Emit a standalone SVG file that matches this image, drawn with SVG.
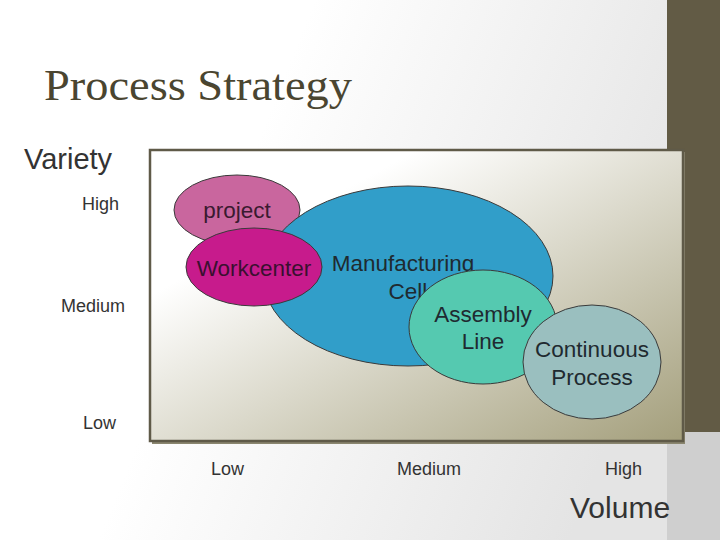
<svg xmlns="http://www.w3.org/2000/svg" width="720" height="540" viewBox="0 0 720 540">
<defs>
<linearGradient id="bg" x1="0" y1="0" x2="1" y2="0.3"><stop offset="0.4" stop-color="#ffffff"/><stop offset="1" stop-color="#e4e4e4"/></linearGradient>
<linearGradient id="ch" x1="0" y1="0" x2="1" y2="1"><stop offset="0.25" stop-color="#ffffff"/><stop offset="1" stop-color="#a49f7c"/></linearGradient>
</defs>
<style>
text{font-family:"Liberation Sans",Arial,sans-serif;fill:#333}
.e{stroke:#3a3a3a;stroke-width:1}
.l{font-size:22.5px;text-anchor:middle;fill:#1f2a30}
.a{font-size:18px;fill:#333}
</style>
<rect width="720" height="540" fill="url(#bg)"/>
<rect x="667" y="0" width="53" height="432" fill="#625b45"/>
<rect x="667" y="432" width="53" height="108" fill="#cfcfcf"/>
<text x="44" y="100" textLength="308" lengthAdjust="spacingAndGlyphs" style="font-family:'Liberation Serif',serif;font-size:45px;fill:#4a4530">Process Strategy</text>
<text x="24" y="169" style="font-size:29px">Variety</text>
<text x="82" y="210" class="a">High</text>
<text x="61" y="312" class="a">Medium</text>
<text x="83" y="429" class="a">Low</text>
<rect x="152" y="152" width="533" height="292" fill="#8a866f"/>
<rect x="150" y="150" width="533" height="291" fill="url(#ch)" stroke="#5f5a48" stroke-width="2.5"/>
<g id="project"><ellipse class="e" cx="237" cy="210" rx="63" ry="35" fill="#c9669e"/><text class="l" x="237" y="218" style="fill:#3a1a30">project</text></g>
<g id="cell"><ellipse class="e" cx="408" cy="276" rx="145" ry="90" fill="#319ec9"/><text class="l" x="403" y="271">Manufacturing</text><text class="l" x="408" y="299">Cell</text></g>
<g id="workcenter"><ellipse class="e" cx="254" cy="267" rx="68" ry="39" fill="#c71b8c"/><text class="l" x="254" y="276" style="fill:#3a1030">Workcenter</text></g>
<g id="assembly"><ellipse class="e" cx="483" cy="327" rx="74" ry="57" fill="#55c9b0"/><text class="l" x="483" y="322">Assembly</text><text class="l" x="483" y="349">Line</text></g>
<g id="continuous"><ellipse class="e" cx="592" cy="362" rx="69" ry="57" fill="#9abfbf"/><text class="l" x="592" y="357">Continuous</text><text class="l" x="592" y="385">Process</text></g>
<g id="connectors"/>
<text x="211" y="475" class="a">Low</text>
<text x="397" y="475" class="a">Medium</text>
<text x="605" y="475" class="a">High</text>
<text x="570" y="518" style="font-size:30px">Volume</text>
</svg>
